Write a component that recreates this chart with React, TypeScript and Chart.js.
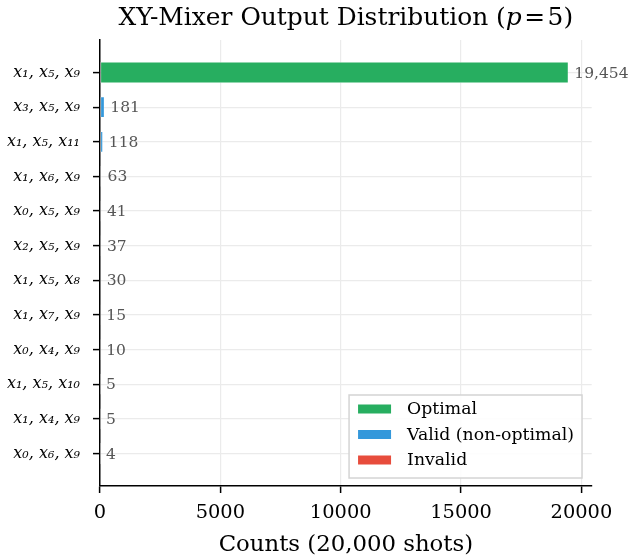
import React, { useEffect, useRef } from "react";
import { Chart, registerables } from "chart.js";

Chart.register(...registerables);

const labels: string[] = [
  "x₁, x₅, x₉",
  "x₃, x₅, x₉",
  "x₁, x₅, x₁₁",
  "x₁, x₆, x₉",
  "x₀, x₅, x₉",
  "x₂, x₅, x₉",
  "x₁, x₅, x₈",
  "x₁, x₇, x₉",
  "x₀, x₄, x₉",
  "x₁, x₅, x₁₀",
  "x₁, x₄, x₉",
  "x₀, x₆, x₉",
];
const counts: number[] = [19454, 181, 118, 63, 41, 37, 30, 15, 10, 5, 5, 4];
const status: string[] = [
  "optimal", "valid", "valid", "valid", "valid", "valid",
  "valid", "valid", "valid", "valid", "valid", "valid",
];
const categoryNames: string[] = ["optimal", "valid", "invalid"];
const legendLabels: string[] = ["Optimal", "Valid (non-optimal)", "Invalid"];
const categoryColors: string[] = ["#27ae60", "#3498db", "#e74c3c"];
const xTicks: number[] = [0, 5000, 10000, 15000, 20000];
const titleMain = "XY-Mixer Output Distribution (";
const titleVar = "p";
const titleRest = "5)";
const xTitle = "Counts (20,000 shots)";

const SERIF = "'DejaVu Serif', serif";

const overlayPlugin = {
  id: "overlay",
  afterDatasetsDraw(chart: any) {
    const ctx = chart.ctx;
    const area = chart.chartArea;
    // value labels
    ctx.save();
    ctx.font = `15.5px ${SERIF}`;
    ctx.fillStyle = "#555555";
    ctx.textAlign = "left";
    ctx.textBaseline = "middle";
    chart.data.datasets.forEach((ds: any, di: number) => {
      const meta = chart.getDatasetMeta(di);
      meta.data.forEach((el: any, j: number) => {
        const v = ds.data[j].x;
        ctx.fillText(v.toLocaleString("en-US"), el.x + 6, el.y + 1);
      });
    });
    ctx.restore();

    // legend
    ctx.save();
    ctx.font = `17.3px ${SERIF}`;
    let maxW = 0;
    chart.data.datasets.forEach((ds: any) => {
      maxW = Math.max(maxW, ctx.measureText(ds.label).width);
    });
    const w = 58 + maxW + 8;
    const h = 83;
    const x1 = area.right - 9.7;
    const y1 = area.bottom - 8;
    const x0 = x1 - w;
    const y0 = y1 - h;
    ctx.fillStyle = "rgba(255,255,255,0.9)";
    ctx.fillRect(x0, y0, w, h);
    ctx.strokeStyle = "#d4d4d4";
    ctx.lineWidth = 1.5;
    ctx.strokeRect(x0, y0, w, h);
    chart.data.datasets.forEach((ds: any, i: number) => {
      const cy = y0 + 14 + i * 25.5;
      ctx.fillStyle = ds.backgroundColor;
      ctx.fillRect(x0 + 9, cy - 4.5, 33, 9);
      ctx.fillStyle = "#000";
      ctx.textBaseline = "middle";
      ctx.textAlign = "left";
      ctx.fillText(ds.label, x0 + 58, cy + 1);
    });
    ctx.restore();
  },
  afterDraw(chart: any) {
    const ctx = chart.ctx;
    const area = chart.chartArea;
    const cx = (area.left + area.right) / 2;
    ctx.save();
    ctx.fillStyle = "#000";
    ctx.textBaseline = "alphabetic";
    ctx.textAlign = "left";
    // title with italic variable
    const fN = `24.9px ${SERIF}`;
    const fI = `italic 24.9px ${SERIF}`;
    ctx.font = fN;
    const w1 = ctx.measureText(titleMain).width;
    const wEq = ctx.measureText("=").width;
    const w3 = ctx.measureText(titleRest).width;
    ctx.font = fI;
    const w2 = ctx.measureText(titleVar).width;
    const gap = 2.5;
    const total = w1 + w2 + gap + wEq + gap + w3;
    let x = cx - total / 2;
    const by = 25;
    ctx.font = fN;
    ctx.fillText(titleMain, x, by);
    x += w1;
    ctx.font = fI;
    ctx.fillText(titleVar, x, by);
    x += w2 + gap;
    ctx.font = fN;
    ctx.fillText("=", x, by);
    x += wEq + gap;
    ctx.fillText(titleRest, x, by);
    // x axis title
    ctx.font = `22.8px ${SERIF}`;
    ctx.textAlign = "center";
    ctx.fillText(xTitle, cx, 551);
    ctx.restore();
  },
};

export default function App() {
  const ref = useRef<HTMLCanvasElement>(null);
  useEffect(() => {
    const canvas = ref.current;
    if (!canvas) return;
    const maxCount = Math.max(...counts);
    const datasets = categoryNames.map((cat, ci) => ({
      label: legendLabels[ci],
      data: counts
        .map((c, i) => ({ x: c, y: i, s: status[i] }))
        .filter((d) => d.s === cat)
        .map((d) => ({ x: d.x, y: d.y })),
      backgroundColor: categoryColors[ci],
      borderColor: "#ffffff",
      borderWidth: 0.5,
      borderSkipped: false,
      grouped: false,
      categoryPercentage: 1,
      barPercentage: 0.6,
    }));
    const chart = new Chart(canvas, {
      type: "bar",
      data: { datasets },
      options: {
        indexAxis: "y",
        animation: false,
        responsive: false,
        maintainAspectRatio: false,
        devicePixelRatio: 1,
        layout: { padding: { top: 40, right: 39.3, bottom: 0, left: 0 } },
        plugins: {
          legend: { display: false },
          tooltip: { enabled: false },
          title: { display: false },
        },
        scales: {
          x: {
            type: "linear",
            position: "bottom",
            min: 0,
            max: maxCount * 1.05,
            afterBuildTicks: (scale: any) => {
              scale.ticks = xTicks.map((v) => ({ value: v }));
            },
            afterFit: (scale: any) => {
              scale.height = 72;
            },
            grid: {
              color: "#ebebeb",
              lineWidth: 1.2,
              drawTicks: true,
              tickLength: 7,
              tickColor: "#000",
              tickWidth: 1.5,
            },
            border: { display: true, color: "#000", width: 1.5 },
            ticks: {
              color: "#000",
              font: { family: SERIF, size: 19.4 },
              padding: 8,
              maxRotation: 0,
              autoSkip: false,
              callback: (v: any) => String(v),
            },
          },
          y: {
            type: "linear",
            position: "left",
            reverse: true,
            offset: false,
            min: -0.938,
            max: labels.length - 1 + 0.938,
            afterBuildTicks: (scale: any) => {
              scale.ticks = labels.map((_, i) => ({ value: i }));
            },
            afterFit: (scale: any) => {
              scale.width = 100;
            },
            grid: {
              offset: false,
              color: "#ebebeb",
              lineWidth: 1.2,
              drawTicks: true,
              tickLength: 7,
              tickColor: "#000",
              tickWidth: 1.5,
            },
            border: { display: true, color: "#000", width: 1.5 },
            ticks: {
              color: "#000",
              font: { family: SERIF, size: 16, style: "italic" },
              padding: 13,
              autoSkip: false,
              callback: (v: any) => labels[Math.round(v)] ?? "",
            },
          },
        },
      },
      plugins: [overlayPlugin],
    } as any);
    return () => chart.destroy();
  }, []);
  return (
    <div style={{ position: "fixed", left: 0, top: 0, width: 631, height: 558, background: "#fff" }}>
      <canvas ref={ref} width={631} height={558} style={{ width: 631, height: 558 }} />
    </div>
  );
}
